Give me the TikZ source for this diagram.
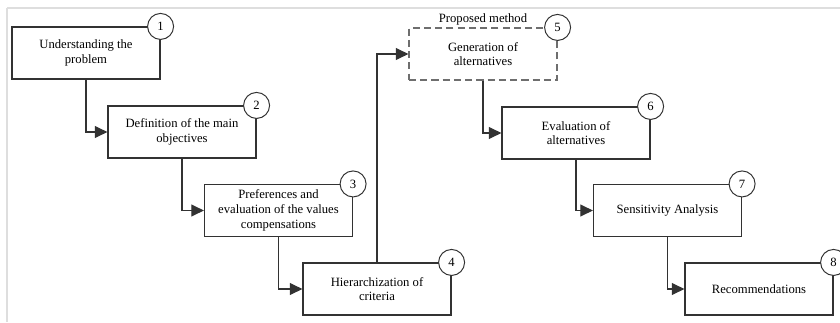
\documentclass[tikz,border=0pt]{standalone}
\usepackage{fontspec}
\setmainfont{Liberation Serif}
\usepackage{tikz}
\usetikzlibrary{arrows.meta, positioning}
\definecolor{FrameGray}{RGB}{222,222,222}
\definecolor{LineDark}{RGB}{50,50,50}
\definecolor{DashGray}{RGB}{110,110,110}

\begin{document}
\begin{tikzpicture}[x=0.025cm, y=-0.025cm,
				box/.style={draw=LineDark, line width=0.8pt, fill=white, minimum width=3.7cm, minimum height=1.3cm, inner sep=1pt, align=center, font=\rmfamily\fontsize{9}{10.5}\selectfont},
				dbox/.style={box, draw=DashGray, dash pattern=on 5pt off 3pt},
				num/.style={circle, draw=LineDark, line width=0.7pt, fill=white, minimum size=0.65cm, inner sep=0pt, font=\rmfamily\fontsize{9}{10}\selectfont},
				arr/.style={-{Triangle[length=9pt, width=8.5pt]}, line width=0.8pt, LineDark}]
			\useasboundingbox (0,0) rectangle (840,322);
			\draw[FrameGray, line width=1.5pt] (7,8) -- (840,8);
			\draw[FrameGray, line width=1.5pt] (7,8) -- (7,322);

			\node[box]  (b1) at (86,53)    {Understanding the\\ problem};
			\node[box]  (b2) at (182,132)  {Definition of the main\\ objectives};
			\node[box]  (b3) at (278.5,210.5) {Preferences and\\ evaluation of the values\\ compensations};
			\node[box]  (b4) at (377,289)  {Hierarchization of\\ criteria};
			\node[dbox] (b5) at (483,54)   {Generation of\\ alternatives};
			\node[box]  (b6) at (576,133)  {Evaluation of\\ alternatives};
			\node[box]  (b7) at (667.5,210.5) {Sensitivity Analysis};
			\node[box]  (b8) at (759,289)  {Recommendations};
			\node[font=\rmfamily\fontsize{9}{10}\selectfont, inner sep=1pt, anchor=south] (pm) at ([yshift=0.5pt]b5.north) {Proposed method};

			\draw[arr] (b1.south) |- (b2.west);
			\draw[arr] (b2.south) |- (b3.west);
			\draw[arr] (b3.south) |- (b4.west);
			\draw[arr] (b4.north) |- (b5.west);
			\draw[arr] (b5.south) |- (b6.west);
			\draw[arr] (b6.south) |- (b7.west);
			\draw[arr] (b7.south) |- (b8.west);

			\node[num] (n1) at (b1.north east) {1};
			\node[num] (n2) at (b2.north east) {2};
			\node[num] (n3) at (b3.north east) {3};
			\node[num] (n4) at (b4.north east) {4};
			\node[num] (n5) at (b5.north east) {5};
			\node[num] (n6) at (b6.north east) {6};
			\node[num] (n7) at (b7.north east) {7};
			\node[num] (n8) at (b8.north east) {8};
		\end{tikzpicture}
\end{document}
